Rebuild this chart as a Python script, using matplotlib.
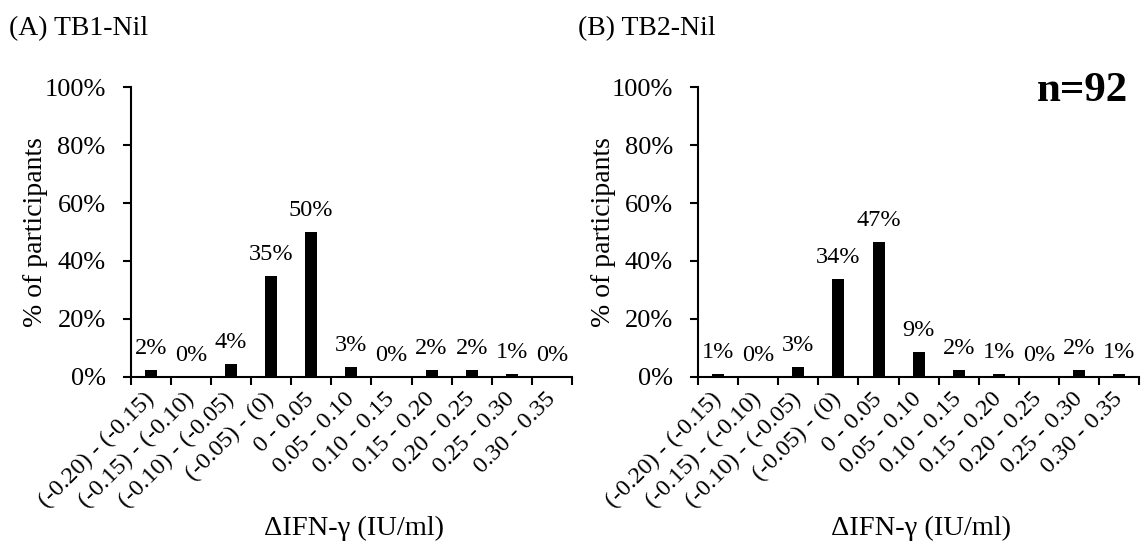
import numpy as np
import matplotlib
matplotlib.use("Agg")
import matplotlib.pyplot as plt
from matplotlib.ticker import FixedLocator

plt.rcParams['font.family'] = ['Liberation Serif', 'DejaVu Serif']

categories = ["(-0.20) - (-0.15)", "(-0.15) - (-0.10)", "(-0.10) - (-0.05)",
              "(-0.05) - (0)", "0 - 0.05", "0.05 - 0.10", "0.10 - 0.15",
              "0.15 - 0.20", "0.20 - 0.25", "0.25 - 0.30", "0.30 - 0.35"]

# % of participants per bin (n=92)
tb1_nil = [2.2, 0.0, 4.3, 34.8, 50.0, 3.3, 0.0, 2.2, 2.2, 1.1, 0.0]
tb2_nil = [1.1, 0.0, 3.3, 33.7, 46.7, 8.7, 2.2, 1.1, 0.0, 2.2, 1.1]

panel_titles = ["(A) TB1-Nil", "(B) TB2-Nil"]
yticks = [0, 20, 40, 60, 80, 100]

W, H = 1141, 547
fig = plt.figure(figsize=(W / 100, H / 100), dpi=100)


def draw_panel(left_px, values, title, title_x_px):
    ax = fig.add_axes([left_px / W, (H - 376.7) / H, 441.3 / W, 289.5 / H])
    x = np.arange(len(categories))
    ax.bar(x, values, width=0.3, color="black")
    ax.set_xlim(-0.5, len(categories) - 0.5)
    ax.set_ylim(0, 100)

    for s in ["top", "right"]:
        ax.spines[s].set_visible(False)
    for s in ["left", "bottom"]:
        ax.spines[s].set_linewidth(1.5)

    ax.set_yticks(yticks)
    ax.set_yticklabels([f"{t}%" for t in yticks], fontsize=19)
    ax.tick_params(axis="y", direction="out", length=6, width=1.5, pad=12)

    # category labels at bar centres, tick marks at bin boundaries
    ax.set_xticks(x)
    ax.set_xticklabels(categories, fontsize=17.5, rotation=45,
                       ha="right", va="center", rotation_mode="anchor")
    ax.tick_params(axis="x", which="major", length=0, pad=14)
    ax.xaxis.set_minor_locator(FixedLocator(np.arange(-0.5, len(categories), 1.0)))
    ax.tick_params(axis="x", which="minor", direction="out", length=6, width=1.5)

    for xi, v in zip(x, values):
        ax.annotate(f"{v:.0f}%", (xi, v), xytext=(0, 11.5), textcoords="offset points",
                    ha="center", va="baseline", fontsize=17.5)

    ax.text(-95 / 441.3, 0.5, "% of participants", transform=ax.transAxes,
            rotation=90, ha="center", va="center", fontsize=20)
    fig.text((left_px + 223) / W, 1 - 535 / H, "\u0394IFN-\u03b3 (IU/ml)",
             ha="center", va="baseline", fontsize=20.5)
    fig.text(title_x_px / W, 1 - 35 / H, title, ha="left", va="baseline", fontsize=20)
    return ax


draw_panel(130.7, tb1_nil, panel_titles[0], 9)
draw_panel(698, tb2_nil, panel_titles[1], 578)

fig.text(1128 / W, 1 - 101 / H, "n=92", ha="right", va="baseline",
         fontsize=31, fontweight="bold")

fig.savefig("out.png", dpi=100)
